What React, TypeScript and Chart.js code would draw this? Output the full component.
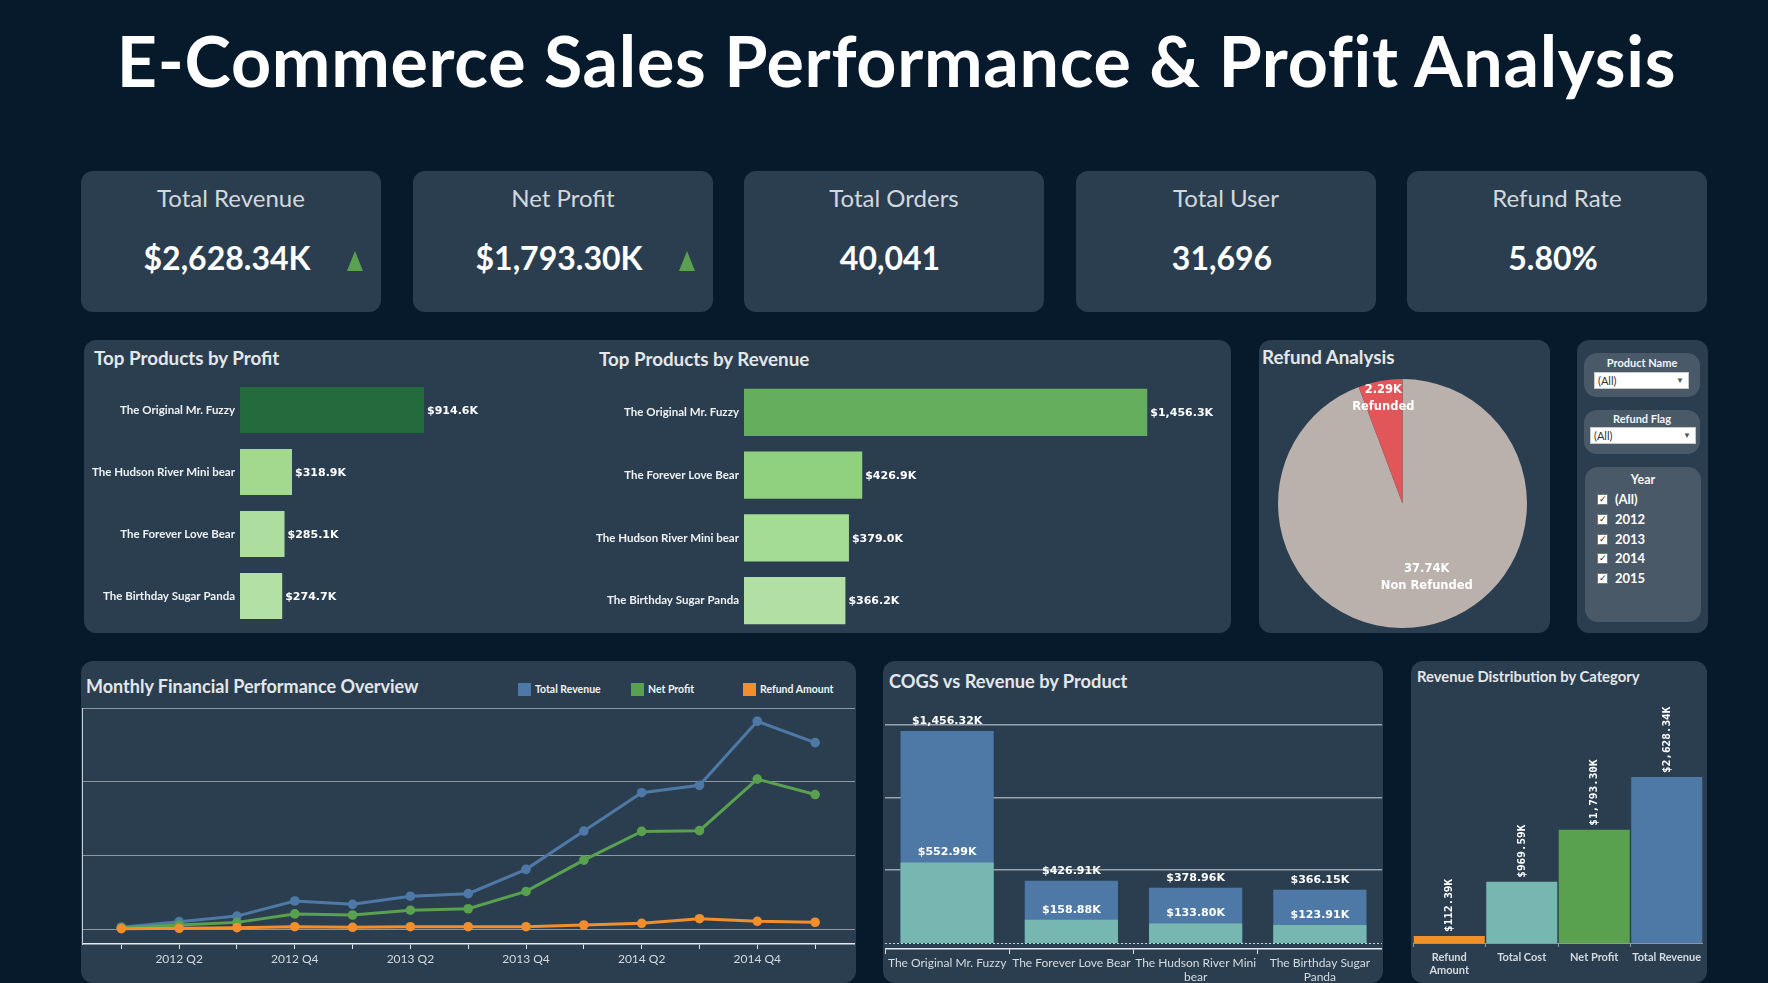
import React, { useEffect, useRef } from "react";
import { Chart, registerables } from "chart.js";

Chart.register(...registerables);

// ---------------- data ----------------
const dashboardTitle = "E-Commerce Sales Performance & Profit Analysis";

const kpiTitles = ["Total Revenue", "Net Profit", "Total Orders", "Total User", "Refund Rate"];
const kpiValues = ["$2,628.34K", "$1,793.30K", "40,041", "31,696", "5.80%"];
const kpiTrendUp = [true, true, false, false, false];

const profitProducts = ["The Original Mr. Fuzzy", "The Hudson River Mini bear", "The Forever Love Bear", "The Birthday Sugar Panda"];
const profitValues = [914.6, 318.9, 285.1, 274.7];

const revenueProducts = ["The Original Mr. Fuzzy", "The Forever Love Bear", "The Hudson River Mini bear", "The Birthday Sugar Panda"];
const revenueValues = [1456.3, 426.9, 379.0, 366.2];

const refundLabels = ["Non Refunded", "Refunded"];
const refundCounts = [37.74, 2.29];

const productFilterValue = "(All)";
const refundFilterValue = "(All)";
const yearOptions = ["(All)", "2012", "2013", "2014", "2015"];

const quarterTickLabels = ["", "2012 Q2", "", "2012 Q4", "", "2013 Q2", "", "2013 Q4", "", "2014 Q2", "", "2014 Q4", ""];
const monthlyRevenue = [5, 20, 35, 76, 67, 89, 96, 162, 266, 370, 390, 564, 506];
const monthlyProfit = [3.5, 11, 18, 41, 38, 51, 55, 102, 187, 265, 267, 407, 365];
const monthlyRefund = [0.8, 1.9, 3.5, 6.3, 4.6, 6.3, 6.3, 6.3, 10.9, 15.5, 28, 21, 18.3];
const lineGridValues = [0, 200, 400, 600];
const legendNames = ["Total Revenue", "Net Profit", "Refund Amount"];

const cogsProducts = [["The Original Mr. Fuzzy"], ["The Forever Love Bear"], ["The Hudson River Mini", "bear"], ["The Birthday Sugar", "Panda"]];
const cogsRevenue = [1456.32, 426.91, 378.96, 366.15];
const cogsCost = [552.99, 158.88, 133.8, 123.91];
const cogsGridValues = [500, 1000, 1500];

const categoryNames = [["Refund", "Amount"], ["Total Cost"], ["Net Profit"], ["Total Revenue"]];
const categoryValues = [112.39, 969.59, 1793.3, 2628.34];

// ---------------- style ----------------
const BG = "#061a2c";
const PANEL = "#2b3e50";
const INNER = "#4a5967";
const FONT = "Lato, 'Noto Sans', sans-serif";
const NUM_FONT = "'DejaVu Sans', Verdana, sans-serif";
const MONO_FONT = "'DejaVu Sans Mono', monospace";
const BLUE = "#4e79a7";
const GREEN = "#59a14f";
const ORANGE = "#f28e2b";
const TEAL = "#76b7b2";

const profitColors = ["#236a3d", "#a2d98f", "#aede9f", "#b3e0a4"];
const revenueColors = ["#65ae5e", "#8fd17f", "#a5dc95", "#b2e0a4"];
const pieColors = ["#bab0ac", "#e15759"];
const pieLabelRadius = [0.62, 0.86];
const pieLabelAngleShift = [-0.14, 0];
const categoryColors = [ORANGE, TEAL, GREEN, BLUE];

const fmtK = (v: number, d: number) =>
  "$" + v.toLocaleString("en-US", { minimumFractionDigits: d, maximumFractionDigits: d }) + "K";

const noInteract = {
  animation: false,
  responsive: false,
  events: [] as any[],
};
const noLegend = { legend: { display: false }, tooltip: { enabled: false } };

const zeroPad = (s: any) => {
  s.paddingTop = 0;
  s.paddingBottom = 0;
  s.paddingLeft = 0;
  s.paddingRight = 0;
};

// ---------------- plugins ----------------
function hbarLabels(fmt: (v: number) => string) {
  return {
    id: "hbarLabels",
    afterDatasetsDraw(chart: any) {
      const { ctx } = chart;
      const ds = chart.data.datasets[0];
      const meta = chart.getDatasetMeta(0);
      ctx.save();
      ctx.font = `bold 11px ${NUM_FONT}`;
      ctx.fillStyle = "#ffffff";
      ctx.textAlign = "left";
      ctx.textBaseline = "middle";
      meta.data.forEach((el: any, i: number) => ctx.fillText(fmt(ds.data[i]), el.x + 3, el.y + 1));
      ctx.restore();
    },
  };
}

const pieLabelPlugin = {
  id: "pieLabels",
  afterDatasetsDraw(chart: any) {
    const { ctx } = chart;
    const ds = chart.data.datasets[0];
    const meta = chart.getDatasetMeta(0);
    ctx.save();
    ctx.font = `bold 11.5px ${NUM_FONT}`;
    ctx.fillStyle = "#ffffff";
    ctx.textAlign = "center";
    ctx.textBaseline = "middle";
    meta.data.forEach((arc: any, i: number) => {
      const mid = (arc.startAngle + arc.endAngle) / 2 + pieLabelAngleShift[i];
      const r = arc.outerRadius * pieLabelRadius[i];
      const x = arc.x + Math.cos(mid) * r;
      const y = arc.y + Math.sin(mid) * r;
      ctx.fillText(ds.data[i].toFixed(2) + "K", x, y - 8);
      ctx.fillText(chart.data.labels[i], x, y + 9);
    });
    ctx.restore();
  },
};

const cogsLabelPlugin = {
  id: "cogsLabels",
  afterDatasetsDraw(chart: any) {
    const { ctx } = chart;
    ctx.save();
    const ys = chart.scales.y;
    const y0 = ys.getPixelForValue(0);
    ctx.strokeStyle = "#c9cfd5";
    ctx.lineWidth = 1;
    ctx.setLineDash([2, 2]);
    ctx.beginPath();
    ctx.moveTo(chart.chartArea.left, y0 + 0.5);
    ctx.lineTo(chart.chartArea.right, y0 + 0.5);
    ctx.stroke();
    ctx.setLineDash([]);
    ctx.font = `bold 11px ${NUM_FONT}`;
    ctx.fillStyle = "#ffffff";
    ctx.textAlign = "center";
    ctx.textBaseline = "middle";
    chart.data.datasets.forEach((ds: any, di: number) => {
      const meta = chart.getDatasetMeta(di);
      meta.data.forEach((el: any, i: number) => ctx.fillText(fmtK(ds.data[i], 2), el.x, el.y - 10));
    });
    ctx.restore();
  },
};

const rotatedLabelPlugin = {
  id: "rotLabels",
  afterDatasetsDraw(chart: any) {
    const { ctx } = chart;
    const ds = chart.data.datasets[0];
    const meta = chart.getDatasetMeta(0);
    ctx.save();
    ctx.font = `bold 11px ${MONO_FONT}`;
    ctx.fillStyle = "#ffffff";
    ctx.textAlign = "left";
    ctx.textBaseline = "middle";
    meta.data.forEach((el: any, i: number) => {
      ctx.save();
      ctx.translate(el.x, el.y - 4);
      ctx.rotate(-Math.PI / 2);
      ctx.fillText(fmtK(ds.data[i], 2), 0, 0);
      ctx.restore();
    });
    ctx.restore();
  },
};

// ---------------- configs ----------------
const profitConfig = () => ({
  type: "bar",
  data: {
    labels: profitProducts,
    datasets: [{ data: profitValues, backgroundColor: profitColors, barPercentage: 0.74, categoryPercentage: 1, borderWidth: 0 }],
  },
  options: {
    ...noInteract,
    indexAxis: "y",
    layout: { padding: { top: 9, bottom: 5, left: 0, right: 0 } },
    plugins: noLegend,
    scales: {
      x: { display: false, min: 84.2, max: 1663.6 },
      y: {
        grid: { display: false, drawTicks: false },
        border: { display: false },
        ticks: { color: "#eef1f3", font: { family: FONT, size: 11.5, weight: "bold" }, padding: 5 },
        afterFit: (s: any) => { zeroPad(s); s.width = 150; },
      },
    },
  },
  plugins: [hbarLabels((v) => fmtK(v, 1))],
});

const revenueConfig = () => ({
  type: "bar",
  data: {
    labels: revenueProducts,
    datasets: [{ data: revenueValues, backgroundColor: revenueColors, barPercentage: 0.75, categoryPercentage: 1, borderWidth: 0 }],
  },
  options: {
    ...noInteract,
    indexAxis: "y",
    layout: { padding: { top: 11, bottom: 3, left: 0, right: 0 } },
    plugins: noLegend,
    scales: {
      x: { display: false, min: 0, max: 1719 },
      y: {
        grid: { display: false, drawTicks: false },
        border: { display: false },
        ticks: { color: "#eef1f3", font: { family: FONT, size: 11.5, weight: "bold" }, padding: 5 },
        afterFit: (s: any) => { zeroPad(s); s.width = 154; },
      },
    },
  },
  plugins: [hbarLabels((v) => fmtK(v, 1))],
});

const pieConfig = () => ({
  type: "pie",
  data: {
    labels: refundLabels,
    datasets: [{ data: refundCounts, backgroundColor: pieColors, borderWidth: 0, hoverOffset: 0 }],
  },
  options: {
    ...noInteract,
    layout: { padding: 0 },
    plugins: noLegend,
  },
  plugins: [pieLabelPlugin],
});

const lineDataset = (label: string, values: number[], color: string) => ({
  label,
  data: values.map((v, i) => ({ x: i, y: v })),
  borderColor: color,
  backgroundColor: color,
  borderWidth: 3,
  pointRadius: 4.8,
  pointBorderWidth: 0,
  tension: 0,
  clip: 10,
});

const lineConfig = () => ({
  type: "line",
  data: {
    datasets: [
      lineDataset(legendNames[2], monthlyRefund, ORANGE),
      lineDataset(legendNames[1], monthlyProfit, GREEN),
      lineDataset(legendNames[0], monthlyRevenue, BLUE),
    ],
  },
  options: {
    ...noInteract,
    layout: { autoPadding: false, padding: { top: 8, left: 0, right: 0, bottom: 0 } },
    plugins: noLegend,
    scales: {
      x: {
        type: "linear",
        min: -0.68,
        max: 12.69,
        afterBuildTicks: (s: any) => { s.ticks = quarterTickLabels.map((_, i) => ({ value: i })); },
        ticks: {
          autoSkip: false,
          maxRotation: 0,
          color: "#d3d9de",
          font: { family: FONT, size: 12 },
          padding: 3,
          callback: (v: any) => quarterTickLabels[v] ?? "",
        },
        grid: { drawOnChartArea: false, tickLength: 5, color: "#dfe4e8", lineWidth: 1 },
        border: { color: "#e6eaee", width: 1.5 },
        afterFit: (s: any) => { zeroPad(s); s.height = 36; },
      },
      y: {
        min: -40.7,
        max: 600,
        afterBuildTicks: (s: any) => { s.ticks = lineGridValues.map((v) => ({ value: v })); },
        ticks: { display: false },
        grid: { color: "#8d98a2", lineWidth: 1, drawTicks: false },
        border: { display: true, color: "#c5ccd2", width: 1 },
        afterFit: (s: any) => { zeroPad(s); s.width = 0; },
      },
    },
  },
});

const cogsConfig = () => ({
  type: "bar",
  data: {
    labels: cogsProducts,
    datasets: [
      { label: "COGS", data: cogsCost, backgroundColor: TEAL, barPercentage: 0.75, categoryPercentage: 1, borderWidth: 0 },
      { label: "Revenue", data: cogsRevenue, backgroundColor: BLUE, barPercentage: 0.75, categoryPercentage: 1, borderWidth: 0 },
    ],
  },
  options: {
    ...noInteract,
    layout: { autoPadding: false, padding: 0 },
    plugins: noLegend,
    scales: {
      x: {
        stacked: true,
        ticks: { color: "#d5dbe0", font: { family: FONT, size: 12 }, padding: 2, maxRotation: 0, autoSkip: false },
        grid: { drawOnChartArea: false, tickLength: 5, color: "#dfe4e8", lineWidth: 1 },
        border: { color: "#e6eaee", width: 1.5 },
        afterFit: (s: any) => { zeroPad(s); s.height = 34; },
      },
      y: {
        stacked: false,
        min: -41.2,
        max: 1669,
        afterBuildTicks: (s: any) => { s.ticks = cogsGridValues.map((v) => ({ value: v })); },
        ticks: { display: false },
        grid: { color: "#9aa4ad", lineWidth: 1.5, drawTicks: false },
        border: { display: false },
        afterFit: (s: any) => { zeroPad(s); s.width = 0; },
      },
    },
  },
  plugins: [cogsLabelPlugin],
});

const categoryConfig = () => ({
  type: "bar",
  data: {
    labels: categoryNames,
    datasets: [{ data: categoryValues, backgroundColor: categoryColors, barPercentage: 0.98, categoryPercentage: 1, borderWidth: 0 }],
  },
  options: {
    ...noInteract,
    layout: { autoPadding: false, padding: { top: 10, left: 0, right: 0, bottom: 0 } },
    plugins: noLegend,
    scales: {
      x: {
        ticks: { color: "#d3d9de", font: { family: FONT, size: 11, weight: "bold" }, padding: 4, maxRotation: 0, autoSkip: false },
        grid: { drawOnChartArea: false, tickLength: 4, color: "#8d98a2", lineWidth: 1 },
        border: { color: "#8d98a2", width: 1 },
        afterFit: (s: any) => { zeroPad(s); s.height = 40; },
      },
      y: { display: false, min: 0, max: 3845 },
    },
  },
  plugins: [rotatedLabelPlugin],
});

// ---------------- components ----------------
function ChartBox({ rect, make }: { rect: number[]; make: () => any }) {
  const ref = useRef<HTMLCanvasElement | null>(null);
  useEffect(() => {
    if (!ref.current) return;
    const chart = new Chart(ref.current, make());
    return () => chart.destroy();
  }, []);
  const [l, t, w, h] = rect;
  return (
    <canvas
      ref={ref}
      width={w}
      height={h}
      style={{ position: "absolute", left: l, top: t, width: w, height: h, display: "block" }}
    />
  );
}

function Box({ l, t, w, h, r = 12, bg = PANEL }: { l: number; t: number; w: number; h: number; r?: number; bg?: string }) {
  return <div style={{ position: "absolute", left: l, top: t, width: w, height: h, borderRadius: r, background: bg }} />;
}

function Txt({ l, t, size, weight = 700, color = "#e3e7ea", children, w, align, family = FONT, spacing }: any) {
  return (
    <div
      style={{
        position: "absolute",
        left: l,
        top: t,
        width: w,
        textAlign: align || "left",
        fontFamily: family,
        fontSize: size,
        fontWeight: weight,
        lineHeight: `${size}px`,
        letterSpacing: spacing,
        color,
        whiteSpace: "nowrap",
      }}
    >
      {children}
    </div>
  );
}

const cardLefts = [81, 413, 744, 1076, 1407];

export default function App() {
  useEffect(() => {
    document.body.style.margin = "0";
    document.body.style.background = BG;
  }, []);

  return (
    <div
      style={{
        position: "absolute",
        left: 0,
        top: 0,
        width: 1768,
        height: 983,
        background: BG,
        overflow: "hidden",
        fontFamily: FONT,
      }}
    >
      {/* Title */}
      <Txt l={0} t={25} w={1793} align="center" size={70} weight={700} color="#ffffff" spacing="0.7px">
        {dashboardTitle}
      </Txt>

      {/* KPI cards */}
      {kpiTitles.map((title, i) => (
        <React.Fragment key={title}>
          <Box l={cardLefts[i]} t={171} w={300} h={141} r={12} />
          <Txt l={cardLefts[i]} t={186} w={300} align="center" size={24} weight={400} color="#d2d8dd">
            {title}
          </Txt>
          <Txt l={cardLefts[i] - 4} t={242} w={300} align="center" size={32} weight={700} color="#ffffff">
            {kpiValues[i]}
          </Txt>
          {kpiTrendUp[i] && (
            <div
              style={{
                position: "absolute",
                left: cardLefts[i] + 266,
                top: 251,
                width: 0,
                height: 0,
                borderLeft: "8.5px solid transparent",
                borderRight: "8.5px solid transparent",
                borderBottom: `20px solid ${GREEN}`,
              }}
            />
          )}
        </React.Fragment>
      ))}

      {/* Second row panels */}
      <Box l={84} t={340} w={1147} h={293} />
      <Box l={1259} t={340} w={291} h={293} />
      <Box l={1577} t={340} w={131} h={293} />

      <Txt l={94} t={348.5} size={18.75} weight={700}>Top Products by Profit</Txt>
      <Txt l={599} t={349.5} size={18.75} weight={700}>Top Products by Revenue</Txt>
      <Txt l={1262} t={348} size={18.75} weight={700}>Refund Analysis</Txt>

      <ChartBox rect={[90, 370, 500, 262]} make={profitConfig} />
      <ChartBox rect={[590, 370, 630, 265]} make={revenueConfig} />
      <ChartBox rect={[1278, 379, 249, 249]} make={pieConfig} />

      {/* Filters */}
      <Box l={1584} t={353} w={116} h={44} r={13} bg={INNER} />
      <Txt l={1584} t={357} w={116} align="center" size={11} weight={700} color="#f2f4f6">Product Name</Txt>
      <div style={{ position: "absolute", left: 1594, top: 372, width: 95, height: 17, background: "#ffffff", border: "1px solid #c8c8c8", boxSizing: "border-box" }}>
        <span style={{ position: "absolute", left: 3, top: 2, fontFamily: FONT, fontSize: 11, lineHeight: "11px", color: "#333" }}>{productFilterValue}</span>
        <span style={{ position: "absolute", right: 4, top: 2, fontSize: 8, lineHeight: "11px", color: "#555" }}>▼</span>
      </div>
      <Box l={1584} t={410} w={116} h={44} r={13} bg={INNER} />
      <Txt l={1584} t={413} w={116} align="center" size={11} weight={700} color="#f2f4f6">Refund Flag</Txt>
      <div style={{ position: "absolute", left: 1590, top: 427, width: 106, height: 17, background: "#ffffff", border: "1px solid #c8c8c8", boxSizing: "border-box" }}>
        <span style={{ position: "absolute", left: 3, top: 2, fontFamily: FONT, fontSize: 11, lineHeight: "11px", color: "#333" }}>{refundFilterValue}</span>
        <span style={{ position: "absolute", right: 4, top: 2, fontSize: 8, lineHeight: "11px", color: "#555" }}>▼</span>
      </div>
      <Box l={1585} t={467} w={116} h={155} r={13} bg={INNER} />
      <Txt l={1585} t={474} w={116} align="center" size={12.5} weight={700} color="#f2f4f6">Year</Txt>
      {yearOptions.map((y, i) => (
        <React.Fragment key={y}>
          <div
            style={{
              position: "absolute",
              left: 1597,
              top: 494 + i * 19.75,
              width: 11,
              height: 11,
              background: "#ffffff",
              border: "1px solid #777",
              boxSizing: "border-box",
            }}
          >
            <span style={{ position: "absolute", left: 1, top: 0, fontSize: 9, lineHeight: "9px", color: "#222", fontFamily: NUM_FONT }}>✓</span>
          </div>
          <Txt l={1615} t={493 + i * 19.75} size={13} weight={700} color="#ffffff">{y}</Txt>
        </React.Fragment>
      ))}

      {/* Bottom row panels */}
      <Box l={81} t={661} w={775} h={322} />
      <Box l={883} t={661} w={500} h={322} />
      <Box l={1411} t={661} w={296} h={322} />

      <Txt l={86} t={677} size={18} weight={700} color="#e3e7ea">Monthly Financial Performance Overview</Txt>
      {legendNames.map((n, i) => (
        <React.Fragment key={n}>
          <div style={{ position: "absolute", left: [518, 631, 743][i], top: 683, width: 13, height: 13, background: [BLUE, GREEN, ORANGE][i] }} />
          <Txt l={[535, 648, 760][i]} t={684} size={10.5} weight={700} color="#f0f3f5">{n}</Txt>
        </React.Fragment>
      ))}
      <ChartBox rect={[82, 700, 773, 280]} make={lineConfig} />

      <Txt l={889} t={672} size={18.25} weight={700}>COGS vs Revenue by Product</Txt>
      <ChartBox rect={[885, 700, 497, 283]} make={cogsConfig} />

      <Txt l={1417} t={669} size={14.8} weight={700}>Revenue Distribution by Category</Txt>
      <ChartBox rect={[1413, 690, 290, 293]} make={categoryConfig} />
    </div>
  );
}
